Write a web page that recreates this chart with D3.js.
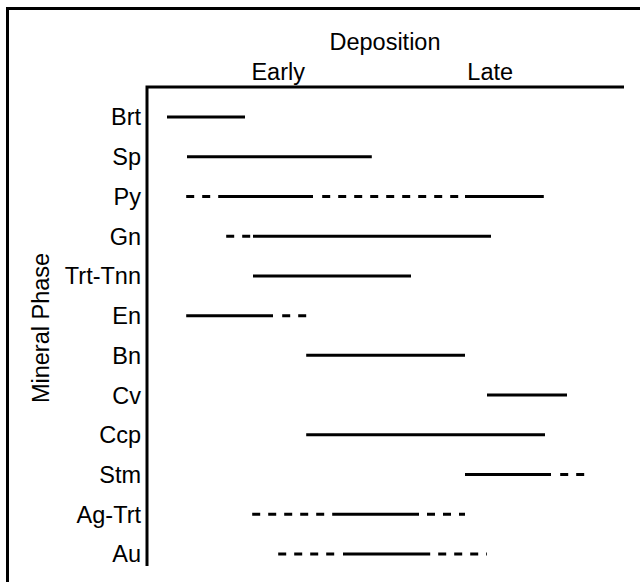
<!DOCTYPE html>
<html>
<head>
<meta charset="utf-8">
<script src="https://cdn.jsdelivr.net/npm/d3@7"></script>
<style>
	body { margin: 0; background: #fff; }
	text { font-family: "Liberation Sans", Arial, sans-serif; fill: #000; font-size: 23.5px; }
</style>
</head>
<body>
<svg id="svg_para" width="640" height="582"></svg>
<script>
// mineral phases, top to bottom
var phases = ["Brt", "Sp", "Py", "Gn", "Trt-Tnn", "En", "Bn", "Cv", "Ccp", "Stm", "Ag-Trt", "Au"];

// relative time of deposition: [start, end, kind]
var brt = [[0.5, 2.45, "solid"]];
var sp = [[1, 5.62, "solid"]];
var py = [[0.98, 1.6, "dash"], [1.78, 4.15, "solid"], [4.38, 7.78, "dash"], [7.95, 9.92, "solid"]];
var gn = [[1.98, 2.6, "dash"], [2.65, 8.6, "solid"]];
var trtTnn = [[2.65, 6.6, "solid"]];
var en = [[0.98, 3.15, "solid"], [3.38, 3.98, "dash"]];
var bn = [[3.98, 7.95, "solid"]];
var cv = [[8.5, 10.5, "solid"]];
var ccp = [[3.98, 9.95, "solid"]];
var stm = [[7.95, 10.1, "solid"], [10.33, 10.95, "dash"]];
var agTrt = [[2.63, 4.45, "dash"], [4.63, 6.8, "solid"], [7, 7.95, "dash"]];
var au = [[3.28, 4.75, "dash"], [4.9, 7.08, "solid"], [7.28, 8.5, "dash"]];

var stageLabels = ["Early", "Late"];
var stagePos = [3.28, 8.58];

var segments = [brt, sp, py, gn, trtTnn, en, bn, cv, ccp, stm, agTrt, au];

function renderParagenesis() {
	var svg = d3.select("#svg_para"),
		margin = {top: 87, left: 147, right: 16, bottom: 16};

	var x = d3.scaleLinear()
		.domain([0, 12])
		.range([margin.left, margin.left + 480]);
	var y = d3.scalePoint()
		.domain(phases)
		.range([117, 554]);

	// outer frame (open on the right and bottom)
	svg.append("path")
		.attr("d", "M7.5,582 L7.5,8.5 L640,8.5")
		.attr("fill", "none")
		.attr("stroke", "#000")
		.attr("stroke-width", 3);

	// axes
	svg.append("path")
		.attr("d", "M" + x(0) + ",566 L" + x(0) + "," + margin.top + " L624," + margin.top)
		.attr("fill", "none")
		.attr("stroke", "#000")
		.attr("stroke-width", 3);

	svg.append("text")
		.attr("x", 385).attr("y", 50)
		.attr("text-anchor", "middle")
		.text("Deposition");

	svg.selectAll(".stage").data(stageLabels)
		.enter().append("text")
		.attr("class", "stage")
		.attr("x", function(d, i) { return x(stagePos[i]); })
		.attr("y", 80)
		.attr("text-anchor", "middle")
		.text(function(d) { return d; });

	svg.append("text")
		.attr("transform", "translate(49,328) rotate(-90)")
		.attr("text-anchor", "middle")
		.text("Mineral Phase");

	svg.selectAll(".phase").data(phases)
		.enter().append("text")
		.attr("class", "phase")
		.attr("x", x(0) - 6)
		.attr("y", function(d) { return y(d); })
		.attr("dy", "0.36em")
		.attr("text-anchor", "end")
		.text(function(d) { return d; });

	var g_line = svg.append("g").attr("id", "para_lines");
	for (var i = 0, len = phases.length; i < len; ++i) {
		var yy = y(phases[i]);
		segments[i].forEach(function(s) {
			g_line.append("line")
				.attr("x1", x(s[0]))
				.attr("x2", x(s[1]))
				.attr("y1", yy)
				.attr("y2", yy)
				.attr("stroke", "#000")
				.attr("stroke-width", 3)
				.attr("stroke-dasharray", s[2] == "dash" ? "8,8" : null);
		});
	}
}

renderParagenesis();
</script>
</body>
</html>
